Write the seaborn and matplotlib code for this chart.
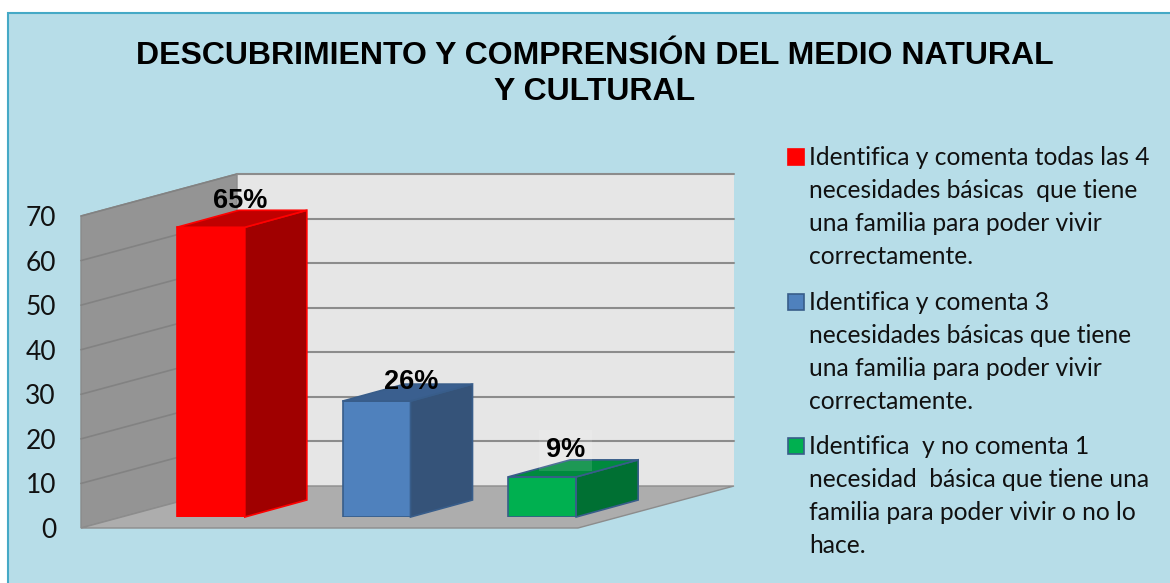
import matplotlib
matplotlib.use('Agg')
import matplotlib.pyplot as plt
from matplotlib.patches import Polygon, Rectangle
import pandas as pd
import seaborn as sns

W, H = 1170, 583

title = 'DESCUBRIMIENTO Y COMPRENSIÓN DEL MEDIO NATURAL\nY CULTURAL'
categories = [
    'Identifica y comenta todas las 4\nnecesidades básicas  que tiene\nuna familia para poder vivir\ncorrectamente.',
    'Identifica y comenta 3\nnecesidades básicas que tiene\nuna familia para poder vivir\ncorrectamente.',
    'Identifica  y no comenta 1\nnecesidad  básica que tiene una\nfamilia para poder vivir o no lo\nhace.',
]
values = [65, 26, 9]
value_labels = ['65%', '26%', '9%']
y_ticks = [0, 10, 20, 30, 40, 50, 60, 70]

front_colors = ['#FF0000', '#4F81BD', '#00B050']
side_colors = ['#A00000', '#355379', '#007033']
top_colors = ['#C00000', '#3A5F8F', '#008A3E']
edge_colors = ['#FF0000', '#385D8A', '#385D8A']

sns.set_theme(style='white')
plt.rcParams['font.family'] = ['Lato', 'DejaVu Sans']


def fig_box(x0, y0, x1, y1):
    # pixel box (top-left origin) to figure fractions
    return [x0 / W, 1 - y1 / H, (x1 - x0) / W, (y1 - y0) / H]


fig = plt.figure(figsize=(W / 100, H / 100), dpi=100, facecolor='white')
fig.add_artist(Rectangle((8 / W, -0.05), 1.1, 1.05 - 13 / H, transform=fig.transFigure,
                         facecolor='#B7DDE8', edgecolor='#45A9C6', linewidth=1.5, zorder=-1))

# front plane of the chart, the walls go back from it
ax = fig.add_axes(fig_box(81, 216, 578, 528))
ax.patch.set_alpha(0)
ax.set_xlim(-0.5, 2.5)
ax.set_ylim(0, 70)
ax.set_xticks([])
ax.set_yticks(y_ticks)
ax.tick_params(axis='y', length=0, pad=18, labelsize=19, labelcolor='#111111')
sns.despine(ax=ax, left=True, bottom=True)

depth_x = 156 / (497 / 3)
depth_y = 42 / (312 / 70)
x0, x1 = -0.5, 2.5
grey = '#8C8C8C'
ax.add_patch(Polygon([(x0 + depth_x, depth_y), (x1 + depth_x, depth_y), (x1 + depth_x, 70 + depth_y),
                      (x0 + depth_x, 70 + depth_y)], facecolor='#E6E6E6', edgecolor='none', clip_on=False))
ax.add_patch(Polygon([(x0, 0), (x0 + depth_x, depth_y), (x0 + depth_x, 70 + depth_y), (x0, 70)],
                     facecolor='#949494', edgecolor='#8A8A8A', lw=1, clip_on=False))
ax.add_patch(Polygon([(x0, 0), (x1, 0), (x1 + depth_x, depth_y), (x0 + depth_x, depth_y)],
                     facecolor='#ADADAD', edgecolor='#8C8C8C', lw=1, clip_on=False))
for t in y_ticks[1:]:
    ax.plot([x0, x0 + depth_x], [t, t + depth_y], color='#828282', lw=1.2, clip_on=False)
    ax.plot([x0 + depth_x, x1 + depth_x], [t + depth_y, t + depth_y], color=grey, lw=1.5, clip_on=False)

# bars stand a little way in from the front edge of the floor
ax_bars = fig.add_axes(fig_box(128, 205, 625, 517))
ax_bars.patch.set_alpha(0)
df = pd.DataFrame({'categoria': categories, 'valor': values})
sns.barplot(data=df, x='categoria', y='valor', hue='categoria', palette=front_colors,
            saturation=1, width=68 / (497 / 3), legend=False, ax=ax_bars)
ax_bars.set_xlim(-0.5, 2.5)
ax_bars.set_ylim(0, 70)
ax_bars.axis('off')

bar_dx = 62 / (497 / 3)
bar_dy = 17 / (312 / 70)
label_offsets = [(21, 19), (25, 14), (17, 19)]
for i, bar in enumerate(list(ax_bars.patches)):
    left, right = bar.get_x(), bar.get_x() + bar.get_width()
    h = bar.get_height()
    bar.set_edgecolor(edge_colors[i])
    bar.set_linewidth(1.2)
    ax_bars.add_patch(Polygon([(right, 0), (right + bar_dx, bar_dy), (right + bar_dx, h + bar_dy), (right, h)],
                              facecolor=side_colors[i], edgecolor=edge_colors[i], lw=1.2, clip_on=False))
    ax_bars.add_patch(Polygon([(left, h), (right, h), (right + bar_dx, h + bar_dy), (left + bar_dx, h + bar_dy)],
                              facecolor=top_colors[i], edgecolor=edge_colors[i], lw=1.2, clip_on=False))
    box = dict(facecolor='white', alpha=0.12, edgecolor='none', pad=5) if i == 2 else None
    ax_bars.annotate(value_labels[i], ((left + right) / 2, h), xytext=label_offsets[i],
                     textcoords='offset points', ha='center', va='center', fontsize=19.5,
                     fontweight='bold', family='Liberation Sans', color='black',
                     bbox=box, annotation_clip=False, zorder=6)

fig.text(595 / W, 1 - 74 / H, title, ha='center', va='center', fontsize=23, fontweight='bold',
         family='Liberation Sans', color='black', linespacing=1.25)

# legend, written out by hand so the keys line up with the first line of each entry
legend_tops = [146, 291, 435]
for txt, top, fc, ec in zip(categories, legend_tops, front_colors, edge_colors):
    fig.add_artist(Rectangle((788 / W, 1 - (top + 19) / H), 16 / W, 16 / H, transform=fig.transFigure,
                             facecolor=fc, edgecolor=ec, linewidth=1.2))
    fig.text(809 / W, 1 - top / H, txt, ha='left', va='top', fontsize=17.7, color='#111111',
             linespacing=1.53)

fig.savefig('out.png', dpi=100)
